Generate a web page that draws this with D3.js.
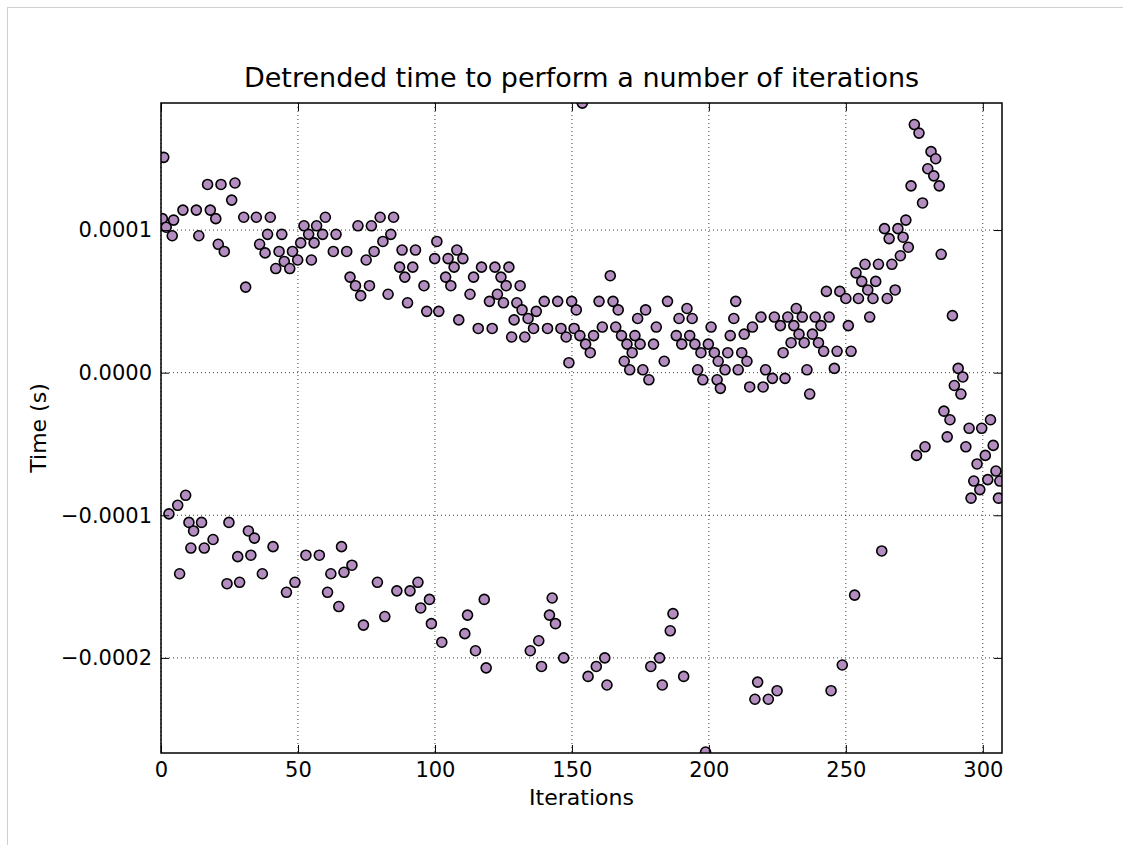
<!DOCTYPE html>
<html>
<head>
<meta charset="utf-8">
<script src="https://cdn.jsdelivr.net/npm/d3@7"></script>
<style>
  body { margin: 0; background: #fff; }
  svg text { font-family: "DejaVu Sans", sans-serif; fill: #000; }
</style>
</head>
<body>
<svg width="1123" height="845"></svg>
<script>
// iteration index
const iterations = [
  0.5, 1.0, 1.9, 2.9, 4.1, 4.6, 6.1, 6.8, 8.0, 9.0, 10.2, 10.9, 11.9, 12.9, 13.8, 14.8, 15.8, 17.0, 18.0, 19.0,
  20.0, 20.9, 21.9, 23.1, 24.1, 24.8, 25.8, 27.0, 28.0, 28.7, 30.2, 30.9, 31.9, 32.8, 34.1, 34.8, 36.0, 37.0, 38.0, 38.9,
  39.9, 40.9, 41.9, 43.1, 44.1, 45.0, 45.8, 47.0, 48.0, 48.9, 49.9, 51.0, 52.2, 52.9, 53.9, 54.9, 55.9, 56.8, 57.8, 59.0,
  60.0, 60.8, 62.0, 62.9, 63.9, 64.9, 65.9, 66.8, 67.8, 69.0, 69.7, 71.0, 71.9, 72.9, 73.9, 74.9, 76.1, 76.8, 77.8, 79.0,
  80.0, 81.0, 81.7, 82.9, 83.9, 84.9, 86.1, 87.1, 88.0, 89.0, 90.0, 90.9, 91.9, 92.9, 93.8, 94.8, 96.0, 97.0, 98.0, 98.7,
  99.9, 100.7, 101.4, 102.5, 103.9, 104.8, 105.8, 107.0, 108.0, 108.7, 110.2, 110.9, 111.9, 112.8, 114.1, 114.8, 115.8, 117.0, 118.0, 118.7,
  119.9, 120.9, 121.9, 122.8, 124.1, 125.0, 126.0, 127.0, 128.0, 128.9, 129.9, 131.1, 131.8, 132.8, 134.0, 134.8, 136.0, 137.0, 137.9, 138.9,
  139.9, 141.1, 141.8, 142.8, 144.0, 144.8, 146.0, 147.0, 147.9, 148.9, 149.9, 150.8, 151.6, 152.9, 153.8, 155.0, 155.9, 156.7, 157.9, 158.9,
  159.9, 161.1, 162.0, 162.8, 164.0, 165.0, 166.0, 166.9, 168.1, 169.1, 170.1, 171.1, 172.0, 173.0, 174.0, 174.9, 175.9, 176.9, 178.1, 178.8,
  179.8, 180.8, 182.0, 183.0, 183.7, 184.9, 185.9, 186.9, 188.1, 189.1, 190.1, 190.8, 192.0, 193.0, 193.9, 194.9, 195.9, 197.1, 197.8, 198.8,
  199.8, 200.8, 202.0, 203.0, 203.4, 204.2, 205.9, 206.9, 207.8, 209.1, 209.8, 210.7, 212.0, 212.9, 213.9, 214.9, 215.9, 216.8, 217.8, 219.0,
  219.8, 220.7, 221.7, 223.2, 223.9, 224.9, 226.1, 227.1, 227.8, 228.8, 230.0, 231.0, 231.9, 232.9, 234.1, 234.8, 235.8, 236.8, 237.8, 238.8,
  240.0, 240.9, 241.9, 242.9, 243.9, 244.6, 245.8, 246.8, 247.8, 248.7, 250.0, 250.9, 251.9, 253.2, 253.7, 254.6, 255.8, 257.0, 258.0, 258.7,
  259.9, 260.9, 261.9, 263.1, 264.1, 265.1, 265.8, 266.8, 268.0, 269.0, 269.9, 270.9, 271.9, 272.8, 273.8, 275.0, 275.8, 276.7, 278.0, 278.9,
  279.9, 281.1, 282.1, 282.8, 284.1, 284.8, 285.8, 287.0, 288.0, 288.9, 289.6, 291.0, 292.0, 292.7, 293.8, 295.0, 295.7, 296.7, 297.9, 298.9,
  299.6, 300.9, 301.8, 302.8, 303.8, 304.8, 305.7, 306.2
];

// detrended time, in microseconds (same order as iterations)
const timeMicros = [
  108, 151, 102, -99, 96, 107, -93, -141, 114, -86, -105, -123, -111, 114, 96, -105, -123, 132, 114, -117,
  108, 90, 132, 85, -148, -105, 121, 133, -129, -147, 109, 60, -111, -128, -116, 109, 90, -141, 84, 97,
  109, -122, 73, 85, 97, 78, -154, 73, 85, -147, 79, 91, 103, -128, 97, 79, 91, 103, -128, 97,
  109, -154, -141, 85, 97, -164, -122, -140, 85, 67, -135, 61, 103, 54, -177, 79, 61, 103, 85, -147,
  109, 92, -171, 55, 97, 109, -153, 74, 86, 67, 49, -153, 74, 86, -147, -165, 61, 43, -159, -176,
  80, 92, 43, -189, 67, 80, 61, 74, 86, 37, 80, -183, -170, 55, 67, -195, 31, 74, -159, -207,
  50, 31, 74, 55, 67, 49, 61, 74, 25, 37, 49, 61, 44, 25, 38, -195, 31, 43, -188, -206,
  50, 31, -170, -158, -176, 50, 31, -200, 25, 7, 50, 31, 44, 26, 189, 20, -213, 14, 26, -206,
  50, 32, -200, -219, 68, 50, 32, 44, 26, 8, 20, 2, 14, 26, 38, 20, 2, 44, -5, -206,
  20, 32, -200, -219, 8, 50, -181, -169, 26, 38, 20, -213, 45, 26, 38, 20, 2, 14, -5, -266,
  20, 32, 14, -5, 8, -11, 2, 14, 26, 38, 50, 2, 14, 27, 8, -10, 32, -229, -217, 39,
  -10, 2, -229, -4, 39, -223, 33, 14, -4, 39, 21, 33, 45, 27, 39, 21, 2, -15, 27, 39,
  21, 33, 15, 57, 39, -223, 3, 15, 57, -205, 52, 33, 15, -156, 70, 52, 64, 76, 58, 39,
  52, 64, 76, -125, 101, 52, 94, 76, 58, 101, 82, 95, 107, 88, 131, 174, -58, 168, 119, -52,
  143, 155, 138, 150, 131, 83, -27, -45, -33, 40, -9, 3, -15, -3, -52, -39, -88, -76, -64, -82,
  -39, -58, -75, -33, -51, -69, -88, -76
];

const xTicks = [0, 50, 100, 150, 200, 250, 300];
const yTicks = [-0.0002, -0.0001, 0, 0.0001];
const xLimits = [0, 307];
const yLimits = [-0.0002667, 0.0001891];

const points = iterations.map((it, i) => ({ x: it, y: timeMicros[i] * 1e-6 }));

const svg = d3.select('svg');
const margin = { top: 103, left: 161 };
const innerWidth = 841;
const innerHeight = 650;

// thin frame round the picture
svg.append('rect')
  .attr('x', 7.5).attr('y', 7.5)
  .attr('width', 1200).attr('height', 900)
  .attr('fill', 'none').attr('stroke', '#cfcfcf');

const g = svg.append('g')
  .attr('transform', `translate(${margin.left},${margin.top})`);

const xScale = d3.scaleLinear().domain(xLimits).range([0, innerWidth]);
const yScale = d3.scaleLinear().domain(yLimits).range([innerHeight, 0]);

// dotted grid
const grid = g.append('g').attr('class', 'grid');
grid.selectAll('line.vx')
  .data(xTicks).enter().append('line')
  .attr('class', 'vx')
  .attr('x1', d => xScale(d)).attr('x2', d => xScale(d))
  .attr('y1', 0).attr('y2', innerHeight);
grid.selectAll('line.hy')
  .data(yTicks).enter().append('line')
  .attr('class', 'hy')
  .attr('x1', 0).attr('x2', innerWidth)
  .attr('y1', d => yScale(d)).attr('y2', d => yScale(d));
grid.selectAll('line')
  .attr('stroke', '#000')
  .attr('stroke-width', 1)
  .attr('stroke-dasharray', '1,3')
  .attr('opacity', 0.75);

// points, clipped to the axes box
g.append('clipPath').attr('id', 'plotclip')
  .append('rect').attr('width', innerWidth).attr('height', innerHeight);

g.append('g').attr('clip-path', 'url(#plotclip)')
  .selectAll('circle')
  .data(points).enter().append('circle')
  .attr('cx', d => xScale(d.x))
  .attr('cy', d => yScale(d.y))
  .attr('r', 5)
  .attr('fill', '#b38dbf')
  .attr('stroke', '#000')
  .attr('stroke-width', 1.6);

// axes, ticks pointing inwards on all four sides
const fmtY = d3.format('.4f');
const xAxis = d3.axisBottom(xScale).tickValues(xTicks).tickSize(-8).tickPadding(9).tickSizeOuter(0);
const yAxis = d3.axisLeft(yScale).tickValues(yTicks).tickSize(-8).tickPadding(9).tickSizeOuter(0).tickFormat(fmtY);

const gx = g.append('g').attr('transform', `translate(0,${innerHeight})`).call(xAxis);
const gy = g.append('g').call(yAxis);
g.append('g').call(d3.axisTop(xScale).tickValues(xTicks).tickSize(-8).tickSizeOuter(0).tickFormat(''));
g.append('g').attr('transform', `translate(${innerWidth},0)`)
  .call(d3.axisRight(yScale).tickValues(yTicks).tickSize(-8).tickSizeOuter(0).tickFormat(''));

g.selectAll('.domain').remove();
g.selectAll('.tick line').attr('stroke', '#000').attr('stroke-width', 1);
gx.selectAll('.tick text').attr('font-size', 21);
gy.selectAll('.tick text').attr('font-size', 21);

g.append('rect')
  .attr('width', innerWidth).attr('height', innerHeight)
  .attr('fill', 'none').attr('stroke', '#000').attr('stroke-width', 1.5);

// labels
svg.append('text')
  .attr('x', margin.left + innerWidth / 2).attr('y', 87)
  .attr('text-anchor', 'middle').attr('font-size', 27)
  .text('Detrended time to perform a number of iterations');

svg.append('text')
  .attr('x', margin.left + innerWidth / 2).attr('y', 805)
  .attr('text-anchor', 'middle').attr('font-size', 22)
  .text('Iterations');

svg.append('text')
  .attr('transform', `translate(46,${margin.top + innerHeight / 2}) rotate(-90)`)
  .attr('text-anchor', 'middle').attr('font-size', 22)
  .text('Time (s)');
</script>
</body>
</html>
